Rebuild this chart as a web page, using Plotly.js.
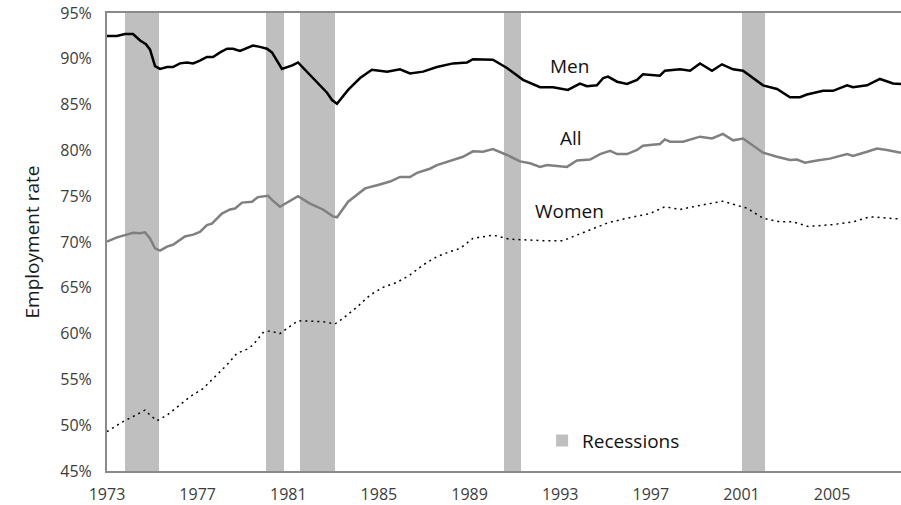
<!DOCTYPE html>
<html>
<head>
<meta charset="utf-8">
<script src="https://cdn.plot.ly/plotly-3.0.1.min.js"></script>
<style>
  html, body { margin: 0; padding: 0; background: #fff; }
  #chart { width: 901px; height: 505px; }
</style>
</head>
<body>
<div id="chart"></div>
<script>
// ---- Data ----
const menYears = [1973.0,1973.44,1973.79,1974.15,1974.46,1974.72,1974.90,1975.12,1975.34,1975.65,1975.91,1976.22,1976.53,1976.80,1977.10,1977.41,1977.68,1977.99,1978.30,1978.56,1978.87,1979.18,1979.44,1979.75,1980.06,1980.28,1980.50,1980.72,1981.08,1981.20,1981.43,1981.96,1982.40,1982.71,1982.93,1983.15,1983.64,1984.17,1984.69,1985.36,1985.93,1986.37,1986.95,1987.56,1988.27,1988.89,1989.15,1990.03,1990.65,1991.36,1992.11,1992.68,1993.34,1993.87,1994.18,1994.62,1994.90,1995.11,1995.51,1995.95,1996.39,1996.65,1997.40,1997.62,1998.29,1998.73,1999.17,1999.70,2000.14,2000.63,2001.07,2001.95,2002.57,2003.14,2003.58,2003.89,2004.60,2005.04,2005.66,2005.92,2006.54,2007.11,2007.69,2008.04];
const menRate  = [92.5,92.5,92.7,92.7,92.0,91.6,91.0,89.2,88.9,89.1,89.1,89.5,89.6,89.5,89.8,90.2,90.2,90.7,91.1,91.1,90.85,91.2,91.45,91.3,91.1,90.7,89.8,88.9,89.2,89.3,89.6,88.2,87.1,86.3,85.5,85.1,86.6,87.9,88.8,88.6,88.85,88.4,88.6,89.1,89.5,89.6,89.95,89.9,89.0,87.7,86.9,86.9,86.6,87.3,87.0,87.1,87.9,88.05,87.5,87.25,87.7,88.3,88.15,88.7,88.85,88.7,89.5,88.7,89.4,88.85,88.7,87.1,86.7,85.8,85.8,86.1,86.5,86.5,87.1,86.9,87.1,87.8,87.3,87.25];

const allYears = [1973.0,1973.44,1973.79,1974.15,1974.46,1974.68,1974.90,1975.12,1975.34,1975.65,1975.91,1976.44,1976.80,1977.10,1977.41,1977.63,1978.07,1978.43,1978.65,1978.96,1979.40,1979.66,1980.11,1980.28,1980.63,1980.99,1981.43,1981.96,1982.53,1982.97,1983.15,1983.64,1984.39,1984.92,1985.49,1985.93,1986.37,1986.68,1987.25,1987.56,1988.14,1988.71,1989.15,1989.59,1990.03,1990.65,1991.23,1991.67,1992.11,1992.42,1992.86,1993.30,1993.74,1994.32,1994.76,1995.20,1995.51,1995.95,1996.39,1996.65,1997.40,1997.62,1997.85,1998.42,1999.17,1999.70,2000.18,2000.63,2001.07,2001.95,2002.57,2003.14,2003.45,2003.80,2004.33,2004.90,2005.66,2005.92,2006.54,2006.98,2007.42,2008.04];
const allRate  = [70.05,70.5,70.75,71.0,70.95,71.05,70.4,69.3,69.05,69.5,69.7,70.6,70.8,71.1,71.85,72.0,73.1,73.55,73.65,74.3,74.4,74.9,75.05,74.6,73.85,74.4,75.0,74.2,73.55,72.8,72.7,74.4,75.85,76.2,76.6,77.1,77.1,77.55,78.0,78.4,78.85,79.3,79.9,79.85,80.15,79.5,78.8,78.6,78.2,78.4,78.3,78.2,78.9,79.0,79.6,79.95,79.6,79.6,80.05,80.5,80.7,81.2,80.95,80.95,81.5,81.3,81.8,81.1,81.3,79.75,79.3,78.95,79.0,78.65,78.9,79.1,79.6,79.4,79.85,80.2,80.05,79.75];

const womenYears = [1973.0,1973.71,1974.15,1974.68,1974.90,1975.21,1975.65,1976.09,1976.66,1977.24,1977.68,1978.30,1978.74,1979.18,1979.44,1979.88,1980.19,1980.63,1981.08,1981.43,1982.53,1983.06,1983.41,1984.03,1984.61,1985.18,1985.80,1986.37,1986.95,1987.56,1988.14,1988.58,1989.15,1990.03,1990.78,1991.67,1992.24,1993.12,1993.74,1994.45,1995.11,1995.95,1996.96,1997.62,1998.29,1999.17,2000.18,2000.80,2001.24,2001.95,2002.70,2003.27,2003.94,2005.04,2005.92,2006.67,2007.42,2008.04];
const womenRate  = [49.3,50.4,50.95,51.65,51.1,50.5,51.1,52.0,53.1,54.0,55.1,56.6,57.85,58.3,58.75,60.1,60.3,60.0,60.8,61.4,61.3,61.05,61.65,62.9,64.2,65.05,65.6,66.4,67.5,68.4,68.95,69.3,70.4,70.75,70.3,70.2,70.15,70.15,70.75,71.5,72.1,72.6,73.1,73.85,73.55,74.0,74.45,74.0,73.7,72.6,72.2,72.2,71.7,71.9,72.2,72.75,72.6,72.5];

const recessionStart = [1973.79, 1980.02, 1981.52, 1990.52, 2001.04];
const recessionEnd   = [1975.29, 1980.81, 1983.06, 1991.27, 2002.02];

const yMin = 45, yMax = 95;
const yTicks = [45,50,55,60,65,70,75,80,85,90,95];
const yTickLabels = ["45%","50%","55%","60%","65%","70%","75%","80%","85%","90%","95%"];
const xTicks = [1973,1977,1981,1985,1989,1993,1997,2001,2005];
const xTickLabels = ["1973","1977","1981","1985","1989","1993","1997","2001","2005"];

const seriesLabels = {men: "Men", all: "All", women: "Women", rec: "Recessions"};

// ---- Traces ----
const recMid = recessionStart.map((s, i) => (s + recessionEnd[i]) / 2);
const recWidth = recessionStart.map((s, i) => recessionEnd[i] - s);

const traces = [
  {
    type: "bar",
    name: seriesLabels.rec,
    x: recMid,
    width: recWidth,
    y: recMid.map(() => yMax - yMin),
    base: yMin,
    marker: {color: "#bfbfbf", line: {width: 0}},
    showlegend: true,
    hoverinfo: "skip"
  },
  {
    type: "scatter", mode: "lines", name: seriesLabels.all,
    x: allYears, y: allRate,
    line: {color: "#808080", width: 2.5},
    showlegend: false
  },
  {
    type: "scatter", mode: "lines", name: seriesLabels.women,
    x: womenYears, y: womenRate,
    line: {color: "#000000", width: 1.5, dash: "2px,4px"},
    showlegend: false
  },
  {
    type: "scatter", mode: "lines", name: seriesLabels.men,
    x: menYears, y: menRate,
    line: {color: "#000000", width: 2.5},
    showlegend: false
  }
];

const font = "'Open Sans', 'Noto Sans', sans-serif";

const layout = {
  width: 901, height: 505,
  margin: {l: 107, r: 0, t: 13, b: 34, pad: 0},
  paper_bgcolor: "#ffffff",
  plot_bgcolor: "#ffffff",
  font: {family: font, size: 16, color: "#3c3c3c"},
  showlegend: true,
  bargap: 0,
  xaxis: {
    type: "linear",
    range: [1973, 2008.04],
    tickmode: "array",
    tickvals: xTicks, ticktext: xTickLabels,
    showgrid: false, zeroline: false,
    showline: true, linecolor: "#8a8a8a", linewidth: 2, mirror: true,
    ticks: "", ticklabelstandoff: 8,
    tickfont: {family: font, size: 16, color: "#3c3c3c"},
    fixedrange: true
  },
  yaxis: {
    range: [yMin, yMax],
    tickmode: "array",
    tickvals: yTicks, ticktext: yTickLabels,
    showgrid: false, zeroline: false,
    showline: true, linecolor: "#8a8a8a", linewidth: 2,
    ticks: "", ticklabelstandoff: 10,
    tickfont: {family: font, size: 16, color: "#3c3c3c"},
    title: {text: "Employment rate", font: {family: font, size: 19, color: "#1a1a1a"}, standoff: 16},
    fixedrange: true
  },
  legend: {
    x: 0.548, y: 0.066, xanchor: "left", yanchor: "middle",
    bgcolor: "rgba(0,0,0,0)", borderwidth: 0,
    font: {family: font, size: 19, color: "#111111"}
  },
  annotations: [
    {x: 1993.43, y: 89.2, xref: "x", yref: "y", text: seriesLabels.men, showarrow: false,
     font: {family: font, size: 19, color: "#111111"}},
    {x: 1993.48, y: 81.35, xref: "x", yref: "y", text: seriesLabels.all, showarrow: false,
     font: {family: font, size: 19, color: "#111111"}},
    {x: 1993.43, y: 73.4, xref: "x", yref: "y", text: seriesLabels.women, showarrow: false,
     font: {family: font, size: 19, color: "#111111"}}
  ]
};

Plotly.newPlot("chart", traces, layout, {displayModeBar: false, staticPlot: true});
</script>
</body>
</html>
